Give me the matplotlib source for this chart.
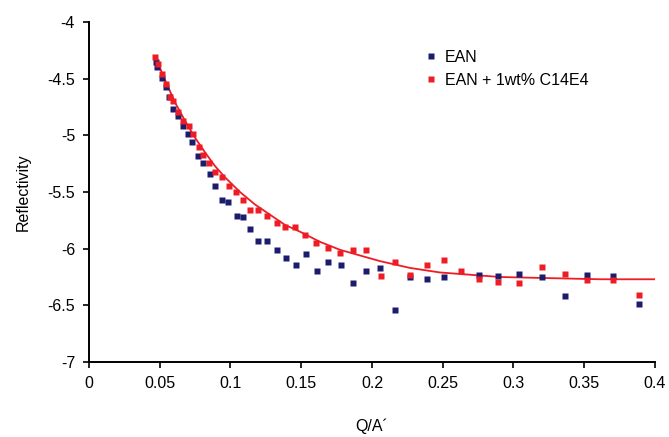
import matplotlib
matplotlib.use("Agg")
import matplotlib.pyplot as plt
from matplotlib.lines import Line2D

plt.rcParams['font.family'] = ['Liberation Sans', 'DejaVu Sans']

# EAN (blue)
q_ean = [0.0473, 0.0481, 0.0516, 0.0544, 0.0565, 0.0594, 0.0629, 0.0664, 0.0700, 0.0728,
         0.0770, 0.0806, 0.0855, 0.0890, 0.0940, 0.0982, 0.1046, 0.1088, 0.1138, 0.1194,
         0.1258, 0.1329, 0.1392, 0.1463, 0.1534, 0.1611, 0.1689, 0.1781, 0.1866, 0.1958,
         0.2057, 0.2163, 0.2269, 0.2389, 0.2509, 0.2756, 0.2890, 0.3039, 0.3201, 0.3364,
         0.3519, 0.3703, 0.3887]
r_ean = [-4.35, -4.40, -4.49, -4.57, -4.66, -4.77, -4.83, -4.92, -4.99, -5.06,
         -5.18, -5.24, -5.34, -5.45, -5.57, -5.59, -5.71, -5.72, -5.83, -5.93,
         -5.93, -6.01, -6.08, -6.14, -6.05, -6.20, -6.12, -6.14, -6.30, -6.20,
         -6.17, -6.54, -6.25, -6.27, -6.25, -6.23, -6.24, -6.22, -6.25, -6.42,
         -6.23, -6.24, -6.49]

# EAN + 1wt% C14E4 (red)
q_mix = [0.0466, 0.0488, 0.0516, 0.0544, 0.0572, 0.0594, 0.0629, 0.0664, 0.0707, 0.0735,
         0.0777, 0.0806, 0.0848, 0.0890, 0.0940, 0.0989, 0.1039, 0.1088, 0.1138, 0.1194,
         0.1258, 0.1329, 0.1385, 0.1456, 0.1526, 0.1604, 0.1689, 0.1774, 0.1866, 0.1958,
         0.2064, 0.2163, 0.2269, 0.2389, 0.2509, 0.2629, 0.2756, 0.2890, 0.3039, 0.3201,
         0.3364, 0.3519, 0.3703, 0.3887]
r_mix = [-4.31, -4.37, -4.46, -4.55, -4.66, -4.70, -4.79, -4.87, -4.92, -4.99,
         -5.10, -5.17, -5.24, -5.32, -5.37, -5.45, -5.50, -5.57, -5.66, -5.66,
         -5.71, -5.77, -5.81, -5.81, -5.88, -5.95, -5.99, -6.04, -6.01, -6.01,
         -6.24, -6.12, -6.23, -6.14, -6.10, -6.20, -6.27, -6.29, -6.30, -6.16,
         -6.22, -6.28, -6.28, -6.41]

# Fitted curve (red line)
q_fit = [0.0466, 0.0537, 0.0608, 0.0678, 0.0749, 0.0820, 0.0890, 0.0961, 0.1067, 0.1173,
         0.1279, 0.1385, 0.1491, 0.1633, 0.1774, 0.1915, 0.2057, 0.2269, 0.2481, 0.2693,
         0.2905, 0.3258, 0.3611, 0.4000]
r_fit = [-4.30, -4.51, -4.71, -4.87, -5.02, -5.15, -5.27, -5.37, -5.50, -5.61,
         -5.70, -5.79, -5.85, -5.94, -6.01, -6.06, -6.11, -6.17, -6.21, -6.23,
         -6.25, -6.26, -6.27, -6.27]

x_ticks = [0, 0.05, 0.1, 0.15, 0.2, 0.25, 0.3, 0.35, 0.4]
x_labels = ['0', '0.05', '0.1', '0.15', '0.2', '0.25', '0.3', '0.35', '0.4']
y_ticks = [-7, -6.5, -6, -5.5, -5, -4.5, -4]
y_labels = ['-7', '-6.5', '-6', '-5.5', '-5', '-4.5', '-4']

blue = '#1c1c6e'
red = '#ee1c25'

fig = plt.figure(figsize=(6.69, 4.37), dpi=100)
ax = fig.add_axes([0.133, 0.1716, 0.846, 0.7781])

ax.plot(q_fit, r_fit, color=red, lw=1.3, zorder=2)
ax.plot(q_ean, r_ean, 's', color=blue, ms=4.8, mec='none', zorder=3)
ax.plot(q_mix, r_mix, 's', color=red, ms=4.8, mec='none', zorder=4)

ax.set_xlim(0, 0.4)
ax.set_ylim(-7, -4)
ax.set_xticks(x_ticks)
ax.set_xticklabels(x_labels)
ax.set_yticks(y_ticks)
ax.set_yticklabels(y_labels)

for s in ['top', 'right']:
    ax.spines[s].set_visible(False)
for s in ['left', 'bottom']:
    ax.spines[s].set_linewidth(1.4)
    ax.spines[s].set_color('black')
ax.tick_params(direction='out', length=4, width=1.2, labelsize=11.5, colors='black', pad=6)

ax.set_ylabel('Reflectivity', fontsize=11.5, labelpad=12)
ax.set_xlabel('Q/A´', fontsize=11.5, labelpad=20)

handles = [Line2D([], [], marker='s', ls='none', color=blue, ms=4, mec='none'),
           Line2D([], [], marker='s', ls='none', color=red, ms=4, mec='none')]
ax.legend(handles, ['EAN', 'EAN + 1wt% C14E4'], loc='upper left',
          bbox_to_anchor=(0.57, 0.96), frameon=False, fontsize=11.5,
          handlelength=0.6, handletextpad=0.6, labelspacing=0.5)

fig.savefig('out.png', dpi=100)
